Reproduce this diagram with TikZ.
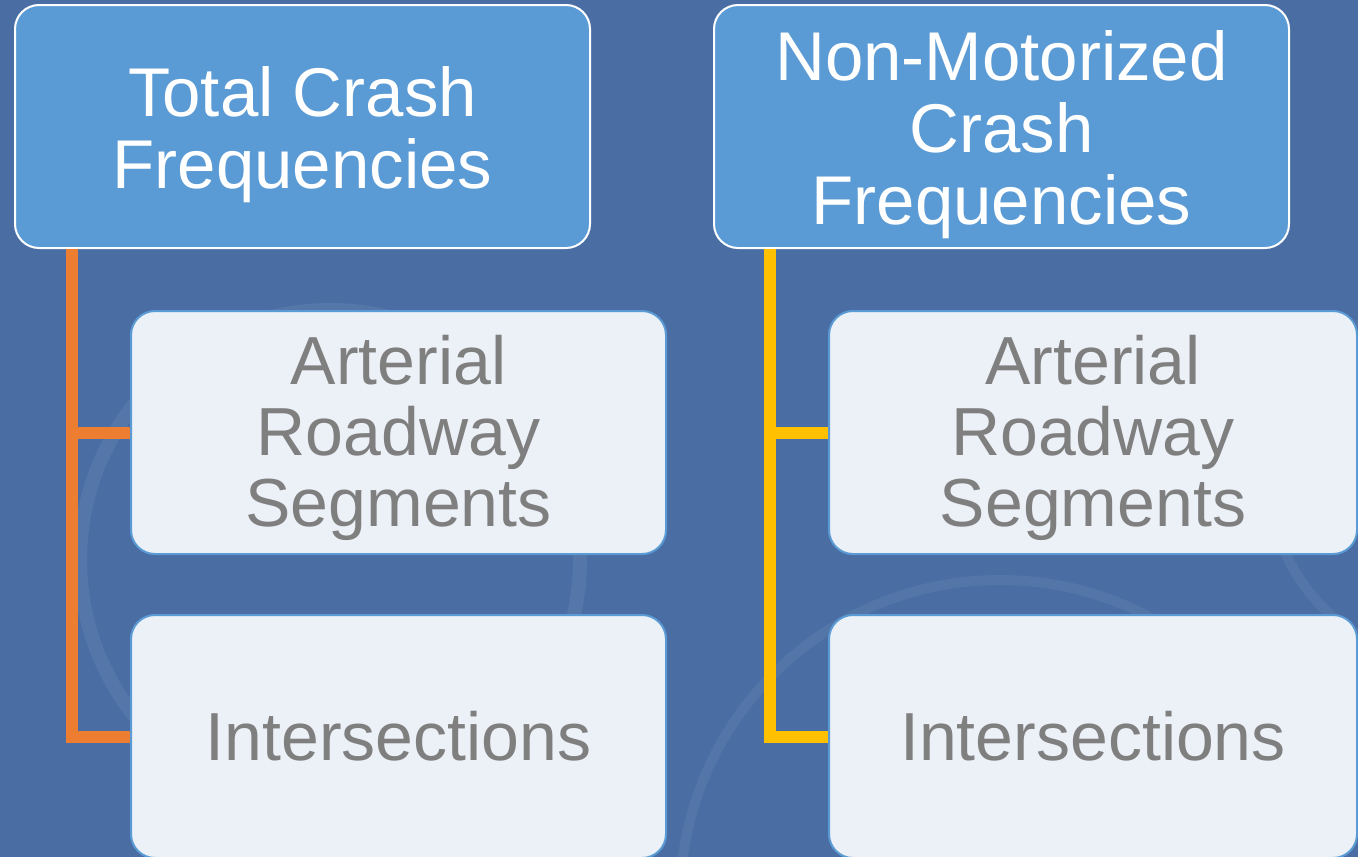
\documentclass[tikz,border=0pt]{standalone}
\usepackage{fontspec}
\setmainfont{Liberation Sans}
\definecolor{bg}{HTML}{4A6EA3}
\definecolor{topfill}{HTML}{5B9BD5}
\definecolor{childfill}{HTML}{ECF0F7}
\definecolor{childline}{HTML}{5B9BD5}
\definecolor{txtgrey}{HTML}{7F7F7F}
\definecolor{lorange}{HTML}{ED7D31}
\definecolor{lyellow}{HTML}{FFC000}
\newcommand{\stacktext}[2]{\raisebox{#1}[0pt][0pt]{\begin{tabular}{@{}c@{}}#2\end{tabular}}}
\tikzset{
  topbox/.style={draw=white, line width=2pt, fill=topfill, rounded corners=24pt,
    minimum width=575pt, minimum height=243pt, inner sep=0pt, anchor=north west,
    text=white, font=\fontsize{69}{72}\selectfont},
  childbox/.style={draw=childline, line width=2pt, fill=childfill, rounded corners=24pt,
    minimum width=535pt, minimum height=243pt, inner sep=0pt, anchor=north west,
    text=txtgrey, font=\fontsize{68}{71}\selectfont},
  conn/.style={line width=12pt, line join=miter, line cap=butt}
}
\begin{document}
\begin{tikzpicture}[x=1pt,y=-1pt]
\fill[bg] (0,0) rectangle (1358,857);
\useasboundingbox (0,0) rectangle (1358,857);
% faint background watermark arcs
\begin{scope}
\clip (0,0) rectangle (1358,857);
\draw[white, opacity=0.06, line width=14pt] (330,560) circle (250);
\draw[white, opacity=0.05, line width=10pt] (1000,900) circle (320);
\draw[white, opacity=0.05, line width=10pt] (1450,480) circle (180);
\end{scope}
% top boxes
\node[topbox] (t1) at (14,4) {\stacktext{-18pt}{Total Crash\\Frequencies}};
\node[topbox] (t2) at (713,4) {\stacktext{-18pt}{Non-Motorized\\Crash\\Frequencies}};
% child boxes
\node[childbox] (a1) at (130,310) {\stacktext{-15pt}{Arterial\\Roadway\\Segments}};
\node[childbox] (i1) at (130,614) {Intersections};
\node[childbox, minimum width=528pt] (a2) at (828,310) {\stacktext{-15pt}{Arterial\\Roadway\\Segments}};
\node[childbox, minimum width=528pt] (i2) at (828,614) {Intersections};
% connectors
\coordinate (c1) at (72,0);
\coordinate (c2) at (770,0);
\draw[conn, lorange] (t1.south -| c1) -- (c1 |- i1.west) -- (i1.west);
\draw[conn, lorange] (c1 |- a1.west) -- (a1.west);
\draw[conn, lyellow] (t2.south -| c2) -- (c2 |- i2.west) -- (i2.west);
\draw[conn, lyellow] (c2 |- a2.west) -- (a2.west);
\end{tikzpicture}
\end{document}
